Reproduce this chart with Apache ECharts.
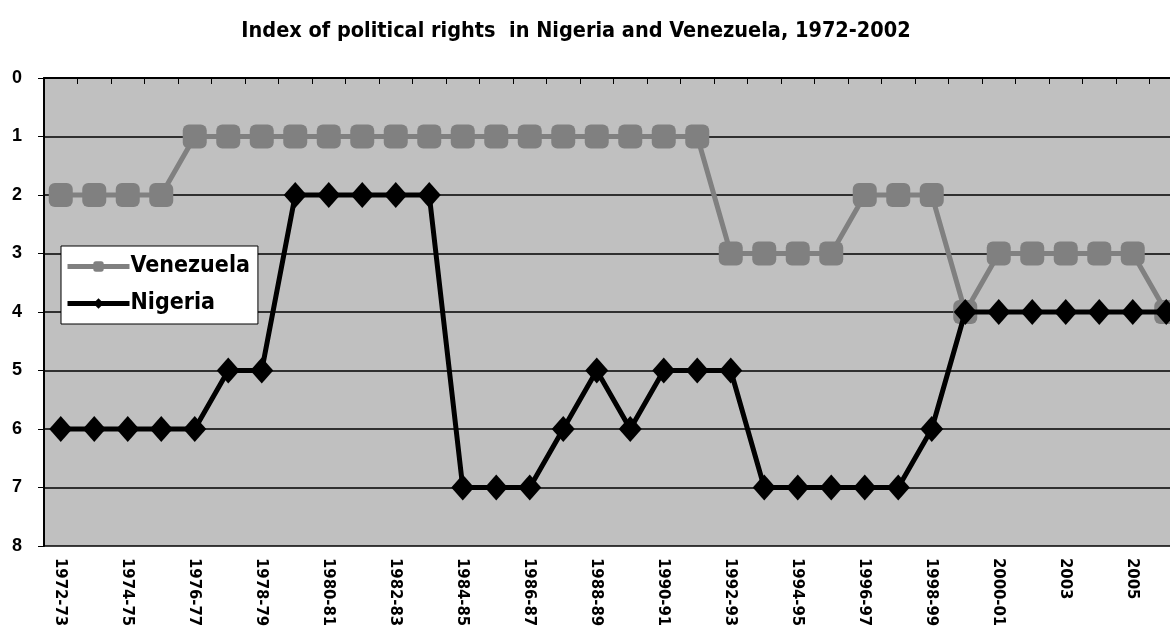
<!DOCTYPE html>
<html>
<head>
<meta charset="utf-8">
<script src="https://cdn.jsdelivr.net/npm/echarts@6/dist/echarts.min.js"></script>
<style>
  html, body { margin: 0; padding: 0; background: #fff; }
  #chart { width: 1170px; height: 628px; }
</style>
</head>
<body>
<div id="chart"></div>
<script>
  // periods as used in the source survey
  var periods = [
    '1972-73', '1973-74', '1974-75', '1975-76', '1976-77', '1977-78', '1978-79', '1979-80',
    '1980-81', '1981-82', '1982-83', '1983-84', '1984-85', '1985-86', '1986-87', '1987-88',
    '1988-89', '1989-90', '1990-91', '1991-92', '1992-93', '1993-94', '1994-95', '1995-96',
    '1996-97', '1997-98', '1998-99', '1999-00', '2000-01', '2001-02', '2003', '2004', '2005', '2006'
  ];
  var venezuela = [2, 2, 2, 2, 1, 1, 1, 1, 1, 1, 1, 1, 1, 1, 1, 1, 1, 1, 1, 1,
                   3, 3, 3, 3, 2, 2, 2, 4, 3, 3, 3, 3, 3, 4];
  var nigeria = [6, 6, 6, 6, 6, 5, 5, 2, 2, 2, 2, 2, 7, 7, 7, 6, 5, 6, 5, 5,
                 5, 7, 7, 7, 7, 7, 6, 4, 4, 4, 4, 4, 4, 4];
  var yTicks = [0, 1, 2, 3, 4, 5, 6, 7, 8];

  var narrow = "'Liberation Sans Narrow', 'DejaVu Sans Condensed', sans-serif";

  var chart = echarts.init(document.getElementById('chart'));
  chart.setOption({
    animation: false,
    title: {
      text: 'Index of political rights  in Nigeria and Venezuela, 1972-2002',
      left: 571,
      top: 15,
      textAlign: 'center',
      textStyle: { fontFamily: narrow, fontWeight: 'bold', fontSize: 21.5, color: '#000' }
    },
    legend: {
      orient: 'vertical',
      left: 61,
      top: 246,
      padding: [9, 8, 9, 4],
      itemGap: 14,
      itemWidth: 62,
      itemHeight: 13,
      backgroundColor: '#fff',
      borderColor: '#000',
      borderWidth: 1,
      borderRadius: 0,
      lineStyle: { width: 5 },
      data: ['Venezuela', 'Nigeria'],
      textStyle: { fontFamily: narrow, fontWeight: 'bold', fontSize: 23, color: '#000', padding: [0, 0, 0, -4] }
    },
    grid: {
      left: 44,
      right: -13,
      top: 78,
      bottom: 82,
      outerBoundsMode: 'none',
      containLabel: false,
      show: true,
      backgroundColor: '#C0C0C0',
      borderWidth: 0
    },
    xAxis: {
      type: 'category',
      data: periods,
      boundaryGap: true,
      axisLine: { lineStyle: { color: '#000', width: 2 } },
      axisTick: { show: true, interval: 0, length: 6, lineStyle: { color: '#000', width: 1 } },
      axisLabel: {
        interval: 1,
        rotate: -90,
        margin: 12,
        fontFamily: narrow,
        fontWeight: 'bold',
        fontSize: 16.5,
        color: '#000'
      },
      splitLine: { show: false }
    },
    yAxis: {
      type: 'value',
      inverse: true,
      min: yTicks[0],
      max: yTicks[yTicks.length - 1],
      interval: 1,
      axisLine: { show: true, lineStyle: { color: '#000', width: 2 } },
      axisTick: { show: true, length: 6, lineStyle: { color: '#000' } },
      axisLabel: {
        margin: 22,
        fontFamily: "'Liberation Sans', Arial, sans-serif",
        fontWeight: 'bold',
        fontSize: 18,
        color: '#000'
      },
      splitLine: {
        show: true,
        lineStyle: { color: ['#808080', '#000', '#000', '#000', '#000', '#000', '#000', '#000', '#000'], width: 1.5 }
      }
    },
    series: [
      {
        name: 'Venezuela',
        type: 'line',
        data: venezuela,
        showAllSymbol: true,
        symbol: 'roundRect',
        symbolSize: 24,
        lineStyle: { color: '#808080', width: 5 },
        itemStyle: { color: '#808080' },
        z: 2
      },
      {
        name: 'Nigeria',
        type: 'line',
        data: nigeria,
        showAllSymbol: true,
        symbol: 'diamond',
        symbolSize: [23, 26],
        lineStyle: { color: '#000', width: 5 },
        itemStyle: { color: '#000' },
        z: 3
      }
    ]
  });
</script>
</body>
</html>
